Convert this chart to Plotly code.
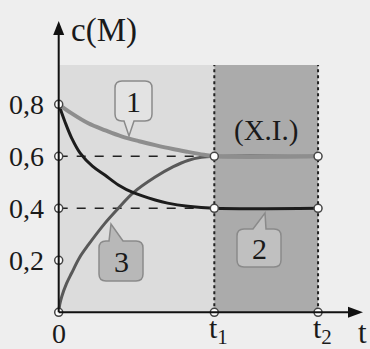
import plotly.graph_objects as go

# Concentration vs time for the three species, equilibrium reached at t1
t1 = 3.0
t2 = 5.0

t_c1 = [0, 0.25, 0.57, 0.9, 1.21, 1.55, 1.86, 2.2, 2.49, 2.8, 3.0, 5.0]
c1 = [0.80, 0.765, 0.727, 0.70, 0.677, 0.658, 0.643, 0.628, 0.617, 0.606, 0.60, 0.60]

t_c2 = [0, 0.12, 0.25, 0.41, 0.65, 0.89, 1.15, 1.44, 1.86, 2.1, 2.49, 3.0, 5.0]
c2 = [0.80, 0.733, 0.67, 0.613, 0.562, 0.528, 0.49, 0.46, 0.432, 0.42, 0.408, 0.40, 0.40]

t_c3 = [0, 0.02, 0.058, 0.15, 0.25, 0.4, 0.57, 0.89, 1.15, 1.44, 1.86, 2.21, 2.49, 2.75, 3.0, 5.0]
c3 = [0.0, 0.03, 0.06, 0.11, 0.151, 0.21, 0.259, 0.342, 0.40, 0.46, 0.52, 0.56, 0.584, 0.596, 0.60, 0.60]

y_ticks = [0.2, 0.4, 0.6, 0.8]
y_tick_text = ["0,2", "0,4", "0,6", "0,8"]
eq_levels = [0.6, 0.4]

W, H = 370, 349
X0PX, Y0PX = 58.7, 312.3      # pixel position of the origin
XS, YS = 51.87, 260.0         # pixels per unit of t and c

def X(px):
    return (px - X0PX) / XS

def Y(py):
    return (Y0PX - py) / YS

SERIF = "'Times New Roman', Times, 'Liberation Serif', serif"
INK = "#1a1a1a"
fig = go.Figure()

shapes = []
# shaded regions
shapes.append(dict(type="rect", xref="x", yref="y", x0=0, x1=t1, y0=0, y1=Y(65),
                   fillcolor="#dcdcdc", line_width=0, layer="below"))
shapes.append(dict(type="rect", xref="x", yref="y", x0=t1, x1=t2, y0=0, y1=Y(65),
                   fillcolor="#ababab", line_width=0, layer="below"))
for tx in (t1, t2):
    shapes.append(dict(type="line", xref="x", yref="y", x0=tx, x1=tx, y0=0, y1=Y(65),
                       line=dict(color="#222222", width=2, dash="dot"), layer="below"))
# dashed guides to equilibrium levels
for lv in eq_levels:
    shapes.append(dict(type="line", xref="x", yref="y", x0=0, x1=t1, y0=lv, y1=lv,
                       line=dict(color="#222222", width=1.5, dash="dash"), layer="below"))

# axes with arrowheads
shapes.append(dict(type="line", xref="x", yref="y", x0=0, x1=0, y0=0, y1=Y(32),
                   line=dict(color="#111111", width=2)))
shapes.append(dict(type="line", xref="x", yref="y", x0=0, x1=X(350), y0=0, y1=0,
                   line=dict(color="#111111", width=2)))

def px_path(cmds):
    out = []
    for c in cmds:
        if isinstance(c, str):
            out.append(c)
        else:
            out.append(f"{X(c[0]):.5f},{Y(c[1]):.5f}")
    return " ".join(out)

shapes.append(dict(type="path", xref="x", yref="y",
                   path=px_path(["M", (X0PX, 21), "L", (X0PX - 5.5, 35), "L", (X0PX + 5.5, 35), "Z"]),
                   fillcolor="#111111", line_width=0))
shapes.append(dict(type="path", xref="x", yref="y",
                   path=px_path(["M", (363, Y0PX), "L", (348, Y0PX - 5.5), "L", (348, Y0PX + 5.5), "Z"]),
                   fillcolor="#111111", line_width=0))

def bubble(x0, y0, x1, y1, tail_l, tail_r, tip, side, r=7):
    cmds = ["M", (x0 + r, y0)]
    if side == "top":
        cmds += ["L", (tail_l, y0), "L", tip, "L", (tail_r, y0)]
    cmds += ["L", (x1 - r, y0), "Q", (x1, y0), (x1, y0 + r),
             "L", (x1, y1 - r), "Q", (x1, y1), (x1 - r, y1)]
    if side == "bottom":
        cmds += ["L", (tail_r, y1), "L", tip, "L", (tail_l, y1)]
    cmds += ["L", (x0 + r, y1), "Q", (x0, y1), (x0, y1 - r),
             "L", (x0, y0 + r), "Q", (x0, y0), (x0 + r, y0), "Z"]
    return px_path(cmds)

bubbles = [
    (115, 81, 152, 121, 124, 134, (129, 136), "bottom", "#e3e3e3", "1"),
    (99, 241, 143, 281, 109, 123, (111, 224), "top", "#b8b8b8", "3"),
    (237, 229, 281, 267, 253, 266, (265, 213), "top", "#c0c0c0", "2"),
]
annotations = []
for bx0, by0, bx1, by1, tl, tr, tip, side, fill, label in bubbles:
    shapes.append(dict(type="path", xref="x", yref="y",
                       path=bubble(bx0, by0, bx1, by1, tl, tr, tip, side),
                       fillcolor=fill, line=dict(color="#8a8a8a", width=1.5)))
    annotations.append(dict(x=X((bx0 + bx1) / 2), y=Y((by0 + by1) / 2), text=label,
                            showarrow=False, xanchor="center", yanchor="middle",
                            font=dict(family=SERIF, size=30, color=INK)))

# curves
fig.add_trace(go.Scatter(x=t_c3, y=c3, mode="lines", line=dict(color="#595959", width=3, shape="spline", smoothing=1.0),
                         hoverinfo="skip", showlegend=False))
fig.add_trace(go.Scatter(x=t_c2, y=c2, mode="lines", line=dict(color="#1c1c1c", width=3, shape="spline", smoothing=1.0),
                         hoverinfo="skip", showlegend=False))
fig.add_trace(go.Scatter(x=t_c1, y=c1, mode="lines", line=dict(color="#8e8e8e", width=4, shape="spline", smoothing=1.0),
                         hoverinfo="skip", showlegend=False))

# open circle markers on the axes and at t1, t2
mx = [0, 0, 0, 0, 0, t1, t2, t1, t2, t1, t2]
my = [0.8, 0.6, 0.4, 0.2, 0, 0, 0, 0.6, 0.6, 0.4, 0.4]
fig.add_trace(go.Scatter(x=mx, y=my, mode="markers",
                         marker=dict(size=8, color="white", line=dict(color="#444444", width=1.5)),
                         hoverinfo="skip", showlegend=False))

for v, txt in zip(y_ticks, y_tick_text):
    annotations.append(dict(x=0, y=v, text=txt, showarrow=False, xanchor="right", yanchor="middle",
                            xshift=-13, font=dict(family=SERIF, size=28, color=INK)))
annotations.append(dict(x=0, y=0, text="0", showarrow=False, xanchor="center", yanchor="bottom",
                        yshift=-(H - Y0PX) - 2, font=dict(family=SERIF, size=28, color=INK)))
for tx, txt in ((t1, "t<sub>1</sub>"), (t2, "t<sub>2</sub>")):
    annotations.append(dict(x=tx, y=0, text=txt, showarrow=False, xanchor="center", yanchor="bottom",
                            xshift=4, yshift=-(H - Y0PX) - 2, font=dict(family=SERIF, size=30, color=INK)))
annotations.append(dict(x=X(362), y=Y(332), text="t", showarrow=False, xanchor="center", yanchor="middle",
                        font=dict(family=SERIF, size=31, color=INK)))
annotations.append(dict(x=X(104), y=Y(30), text="c(M)", showarrow=False, xanchor="center", yanchor="middle",
                        font=dict(family=SERIF, size=33, color=INK)))
annotations.append(dict(x=X(266), y=Y(130), text="(X.I.)", showarrow=False, xanchor="center", yanchor="middle",
                        font=dict(family=SERIF, size=29, color=INK)))

fig.update_layout(
    width=W, height=H,
    margin=dict(l=0, r=0, t=0, b=0),
    paper_bgcolor="#eeeeee", plot_bgcolor="#eeeeee",
    font=dict(family=SERIF, color=INK),
    xaxis=dict(range=[X(0), X(W)], visible=False, fixedrange=True),
    yaxis=dict(range=[Y(H), Y(0)], visible=False, fixedrange=True),
    shapes=shapes, annotations=annotations,
)

fig.write_html("out.html", config={"displayModeBar": False})
